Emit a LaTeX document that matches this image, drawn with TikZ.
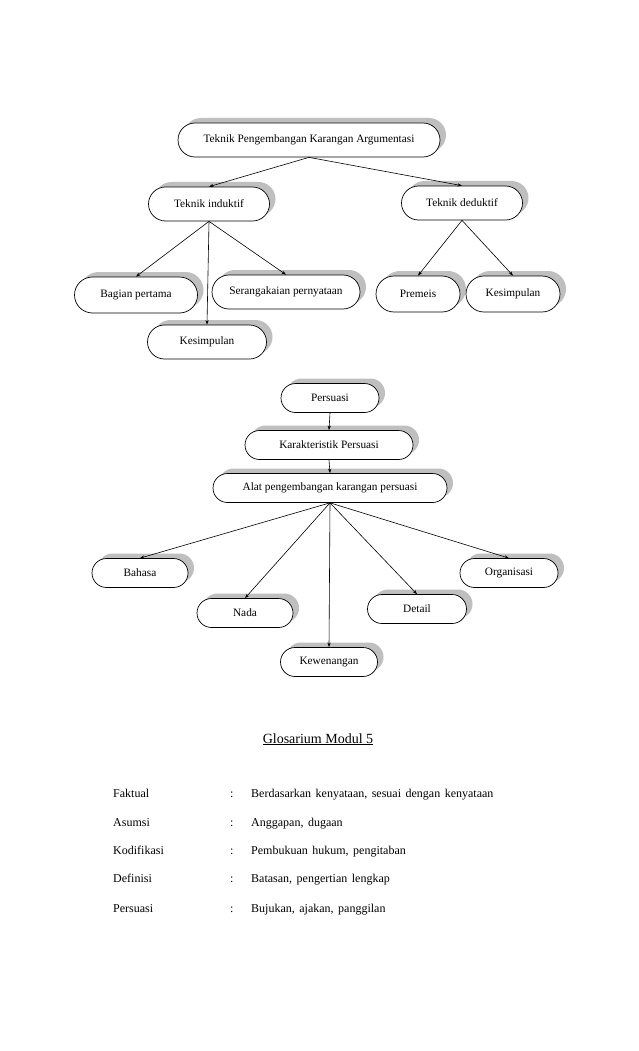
\documentclass[tikz,border=0pt]{standalone}
\usepackage{fontspec}
\setmainfont{Liberation Serif}
\usetikzlibrary{shadows,arrows.meta}
\newcommand{\gsp}{\hspace{4.5pt}}
\tikzset{
  pill/.style={draw, line width=0.7pt, fill=white, rounded corners=#1, inner sep=0pt,
    font=\fontsize{11.3}{13}\selectfont,
    drop shadow={shadow xshift=6pt, shadow yshift=5pt, fill=black!25, opacity=1}},
  pill/.default=16pt,
  conn/.style={line width=0.6pt, -{Stealth[length=4.5pt,width=3.2pt]}},
  gloss/.style={anchor=base west, inner sep=0pt, font=\fontsize{12}{14}\selectfont},
}
\begin{document}
\begin{tikzpicture}[x=1pt,y=-1pt]
\useasboundingbox[fill=white] (0,0) rectangle (638,1051);
% first diagram
\node[pill=17pt, minimum width=262pt, minimum height=34pt] (top) at (309,140) {Teknik Pengembangan Karangan Argumentasi};
\node[pill=17pt, minimum width=121pt, minimum height=34pt] (ind) at (209,204) {Teknik induktif};
\node[pill=17pt, minimum width=121pt, minimum height=34pt] (ded) at (462,203) {Teknik deduktif};
\node[pill=18pt, minimum width=123pt, minimum height=36pt] (bag) at (136,295) {Bagian pertama};
\node[pill=17pt, minimum width=148pt, minimum height=34pt] (ser) at (286,292) {Serangakaian pernyataan};
\node[pill=17pt, minimum width=119pt, minimum height=34pt] (kes1) at (207,342) {Kesimpulan};
\node[pill=18pt, minimum width=84pt, minimum height=36pt] (pre) at (418,294) {Premeis};
\node[pill=18pt, minimum width=94pt, minimum height=36pt] (kes2) at (513,294) {Kesimpulan};
\draw[conn] (top.south) -- (ind.north);
\draw[conn] (top.south) -- (ded.north);
\draw[conn] (ind.south) -- (bag.north);
\draw[conn] (ind.south) -- (kes1.north);
\draw[conn] (ind.south) -- (ser.north);
\draw[conn] (ded.south) -- (pre.north);
\draw[conn] (ded.south) -- (kes2.north);
% second diagram
\node[pill=14.5pt, minimum width=98pt, minimum height=29pt] (per) at (330,398) {Persuasi};
\node[pill=14.5pt, minimum width=168pt, minimum height=29pt] (kar) at (329,445) {Karakteristik Persuasi};
\node[pill=14.5pt, minimum width=234pt, minimum height=29pt] (alat) at (330,488) {Alat pengembangan karangan persuasi};
\node[pill=14.5pt, minimum width=96pt, minimum height=29pt] (bah) at (140,573) {Bahasa};
\node[pill=14.5pt, minimum width=96pt, minimum height=29pt] (nada) at (245,613) {Nada};
\node[pill=14.5pt, minimum width=97pt, minimum height=29pt] (kew) at (329,662) {Kewenangan};
\node[pill=14.5pt, minimum width=99pt, minimum height=29pt] (det) at (417,609) {Detail};
\node[pill=14.5pt, minimum width=98pt, minimum height=29pt] (org) at (509,573) {Organisasi};
\draw[conn] (per.south) -- (kar.north);
\draw[conn] (kar.south) -- (alat.north);
\draw[conn] (alat.south) -- (bah.north);
\draw[conn] (alat.south) -- (nada.north);
\draw[conn] (alat.south) -- (kew.north);
\draw[conn] (alat.south) -- (det.north);
\draw[conn] (alat.south) -- (org.north);
% glossary
\node[anchor=base, inner sep=0pt, font=\fontsize{14}{16}\selectfont] (title) at (318,743) {\underline{Glosarium Modul 5}};
\node[gloss] (t1) at (113,797) {Faktual};
\node[gloss] (c1) at (230,797) {:};
\node[gloss] (d1) at (251,797) {Berdasarkan\gsp kenyataan,\gsp sesuai\gsp dengan\gsp kenyataan};
\node[gloss] (t2) at (113,826) {Asumsi};
\node[gloss] (c2) at (230,826) {:};
\node[gloss] (d2) at (251,826) {Anggapan,\gsp dugaan};
\node[gloss] (t3) at (113,854) {Kodifikasi};
\node[gloss] (c3) at (230,854) {:};
\node[gloss] (d3) at (251,854) {Pembukuan\gsp hukum,\gsp pengitaban};
\node[gloss] (t4) at (113,882) {Definisi};
\node[gloss] (c4) at (230,882) {:};
\node[gloss] (d4) at (251,882) {Batasan,\gsp pengertian\gsp lengkap};
\node[gloss] (t5) at (113,912) {Persuasi};
\node[gloss] (c5) at (230,912) {:};
\node[gloss] (d5) at (251,912) {Bujukan,\gsp ajakan,\gsp panggilan};
\end{tikzpicture}
\end{document}
